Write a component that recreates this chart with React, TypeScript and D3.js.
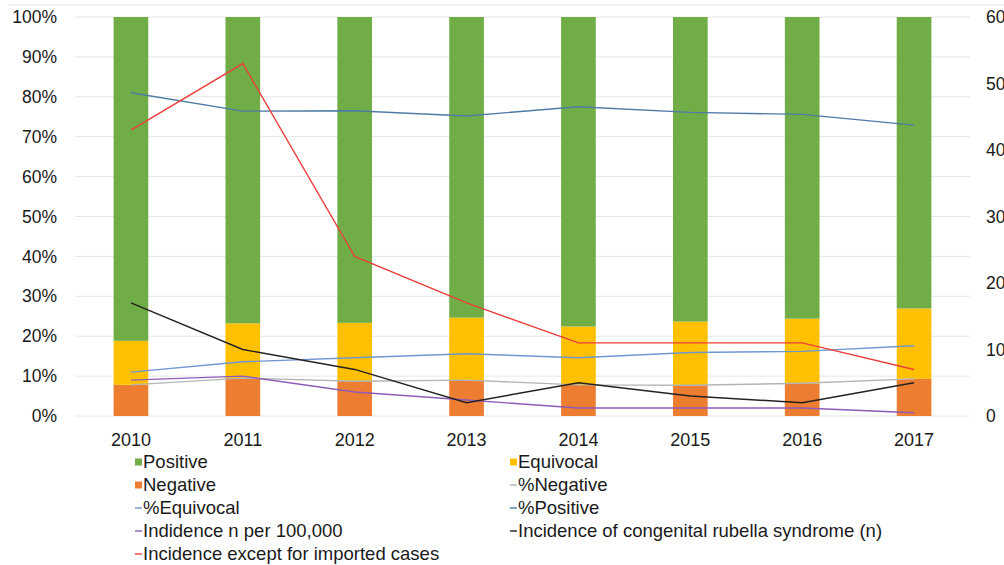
import React from "react";
import * as d3 from "d3";

// Survey years
const years = ["2010", "2011", "2012", "2013", "2014", "2015", "2016", "2017"];

// Share of test results per year (fraction of all tests)
const pctNegative = [0.078, 0.095, 0.087, 0.09, 0.078, 0.077, 0.082, 0.093];
const pctEquivocal = [0.11, 0.136, 0.146, 0.156, 0.146, 0.159, 0.162, 0.176];
const pctPositive = [0.81, 0.764, 0.765, 0.752, 0.775, 0.761, 0.756, 0.729];

// Incidence per 100,000 (plotted on the left axis)
const incidencePer100k = [0.09, 0.1, 0.06, 0.04, 0.02, 0.02, 0.02, 0.008];
// Counts on the right axis
const crsCases = [17, 10, 7, 2, 5, 3, 2, 5];
const incidenceNonImported = [43, 53, 24, 17, 11, 11, 11, 7];

const leftTicks = [0, 0.1, 0.2, 0.3, 0.4, 0.5, 0.6, 0.7, 0.8, 0.9, 1];
const rightTicks = [0, 10, 20, 30, 40, 50, 60];

const W = 1004;
const H = 565;
const FONT = "'Liberation Sans', Arial, sans-serif";

const C = {
  positive: "#70AD47",
  equivocal: "#FFC000",
  negative: "#ED7D31",
  pctNeg: "#B4B4B4",
  pctEq: "#6F97D2",
  pctPos: "#4D7BA5",
  incid: "#8E5CB8",
  crs: "#222222",
  nonImported: "#EC3F3A",
  grid: "#E6E6E6",
  text: "#1a1a1a",
};

export default function App() {
  const x = d3.scaleBand<string>().domain(years).range([75, 970]).paddingInner(0.69).paddingOuter(0.345);
  const yL = d3.scaleLinear().domain([0, 1]).range([416, 17]);
  const yR = d3.scaleLinear().domain([0, 60]).range([416, 17]);
  const cx = (y: string) => (x(y) ?? 0) + x.bandwidth() / 2;

  const rows = years.map((y, i) => ({
    year: y,
    negative: pctNegative[i],
    equivocal: pctEquivocal[i],
    positive: pctPositive[i],
  }));
  const keys = ["negative", "equivocal", "positive"];
  const stacked = d3.stack<any>().keys(keys).offset(d3.stackOffsetExpand)(rows);
  const barColor: Record<string, string> = {
    negative: C.negative,
    equivocal: C.equivocal,
    positive: C.positive,
  };

  const lineL = d3
    .line<number>()
    .x((_, i) => cx(years[i]))
    .y((v) => yL(v));
  const lineR = d3
    .line<number>()
    .x((_, i) => cx(years[i]))
    .y((v) => yR(v));

  const lines = [
    { data: pctNegative, gen: lineL, color: C.pctNeg },
    { data: pctEquivocal, gen: lineL, color: C.pctEq },
    { data: pctPositive, gen: lineL, color: C.pctPos },
    { data: incidencePer100k, gen: lineL, color: C.incid },
    { data: crsCases, gen: lineR, color: C.crs },
    { data: incidenceNonImported, gen: lineR, color: C.nonImported },
  ];

  const legend = [
    { label: "Positive", color: C.positive, kind: "box", col: 0, row: 0 },
    { label: "Equivocal", color: C.equivocal, kind: "box", col: 1, row: 0 },
    { label: "Negative", color: C.negative, kind: "box", col: 0, row: 1 },
    { label: "%Negative", color: C.pctNeg, kind: "line", col: 1, row: 1 },
    { label: "%Equivocal", color: C.pctEq, kind: "line", col: 0, row: 2 },
    { label: "%Positive", color: C.pctPos, kind: "line", col: 1, row: 2 },
    { label: "Indidence n per 100,000", color: C.incid, kind: "line", col: 0, row: 3 },
    { label: "Incidence of congenital rubella syndrome (n)", color: C.crs, kind: "line", col: 1, row: 3 },
    { label: "Incidence except for imported cases", color: C.nonImported, kind: "line", col: 0, row: 4 },
  ];
  const legX = [135, 510];
  const legY = (r: number) => 462 + r * 23;

  return (
    <svg
      width={W}
      height={H}
      style={{ position: "absolute", left: 0, top: 0, background: "#fff" }}
      fontFamily={FONT}
    >
      <rect width={W} height={H} fill="#fff" />
      <line x1={8} x2={W} y1={5} y2={5} stroke="#E2E2E2" strokeWidth={1} />

      {/* gridlines */}
      {leftTicks.map((t) => (
        <line key={t} x1={75} x2={970} y1={yL(t)} y2={yL(t)} stroke={C.grid} strokeWidth={1} />
      ))}

      {/* stacked bars */}
      {stacked.map((s) => (
        <g key={s.key} fill={barColor[s.key]}>
          {s.map((d, i) => (
            <rect
              key={i}
              x={x(years[i])}
              width={x.bandwidth()}
              y={yL(d[1])}
              height={yL(d[0]) - yL(d[1])}
            />
          ))}
        </g>
      ))}

      {/* lines */}
      {lines.map((l, i) => (
        <path key={i} d={l.gen(l.data) ?? ""} fill="none" stroke={l.color} strokeWidth={1.4} />
      ))}

      {/* left axis labels */}
      {leftTicks.map((t) => (
        <text key={t} x={57} y={yL(t)} dy="0.35em" textAnchor="end" fontSize={17.5} fill={C.text}>
          {d3.format(".0%")(t)}
        </text>
      ))}

      {/* right axis labels */}
      {rightTicks.map((t) => (
        <text key={t} x={986} y={yR(t)} dy="0.35em" textAnchor="start" fontSize={17.5} fill={C.text}>
          {t}
        </text>
      ))}

      {/* category labels */}
      {years.map((y) => (
        <text key={y} x={cx(y)} y={440} dy="0.35em" textAnchor="middle" fontSize={18} fill={C.text}>
          {y}
        </text>
      ))}

      {/* legend */}
      {legend.map((e) => {
        const lx = legX[e.col];
        const ly = legY(e.row);
        return (
          <g key={e.label}>
            {e.kind === "box" ? (
              <rect x={lx} y={ly - 3.5} width={7} height={7} fill={e.color} />
            ) : (
              <line x1={lx} x2={lx + 7} y1={ly} y2={ly} stroke={e.color} strokeWidth={1.4} />
            )}
            <text x={lx + 8} y={ly} dy="0.35em" fontSize={18.5} fill={C.text}>
              {e.label}
            </text>
          </g>
        );
      })}
    </svg>
  );
}
